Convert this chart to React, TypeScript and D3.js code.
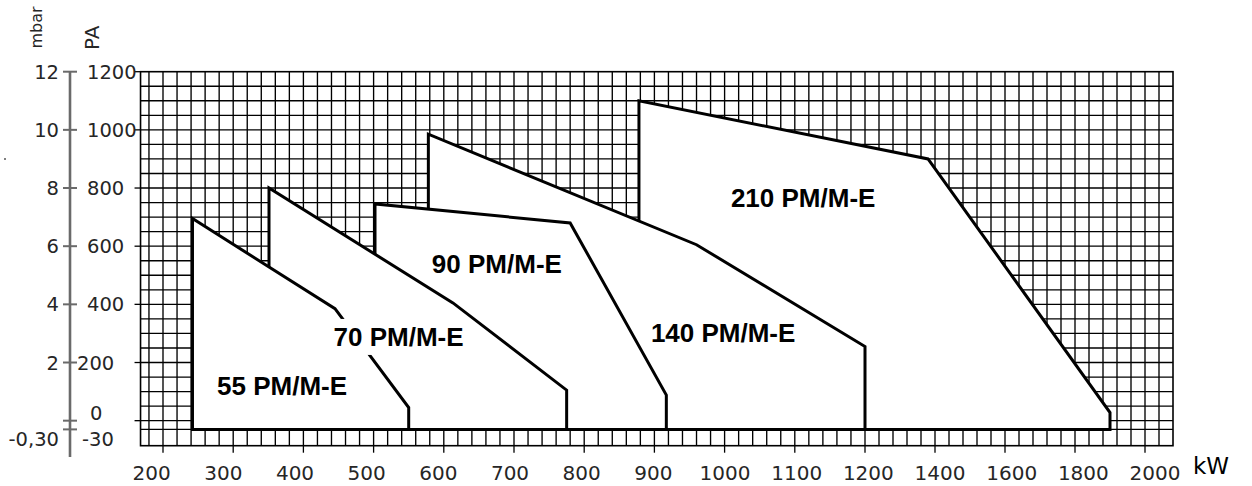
import { type FC, useEffect, useRef } from 'react'
import * as d3 from 'd3'

// burner models, back to front (the small fields overlap the big ones)
const models = ['210 PM/M-E', '140 PM/M-E', '90 PM/M-E', '70 PM/M-E', '55 PM/M-E']

// working field outlines as [kW, Pa]
const field210 = [[878, -30], [878, 1100], [1380, 900], [1900, 28], [1900, -30]]
const field140 = [[578, -30], [578, 985], [960, 605], [1200, 255], [1200, -30]]
const field90 = [[502, -30], [502, 745], [780, 680], [917, 88], [917, -30]]
const field70 = [[351, -30], [351, 800], [613, 405], [775, 105], [775, -30]]
const field55 = [[242, -30], [242, 695], [445, 385], [550, 45], [550, -30]]
const fields = [field210, field140, field90, field70, field55]

// where the model name sits (left end of the baseline) as [kW, Pa]
const labelAnchors = [[1009, 736], [895, 272], [583, 507], [443, 257], [277, 88]]

// axes
const kwTicks = [200, 300, 400, 500, 600, 700, 800, 900, 1000, 1100, 1200, 1400, 1600, 1800, 2000]
const kwLabels = ['200', '300', '400', '500', '600', '700', '800', '900', '1000', '1100', '1200', '1400', '1600', '1800', '2000']
const paTicks = [1200, 1000, 800, 600, 400, 200, 0, -30]
const paLabels = ['1200', '1000', '800', '600', '400', '200', '0', '-30']
const mbarLabels = ['12', '10', '8', '6', '4', '2', '', '-0,30']

const W = 1252
const H = 486

const App: FC = () => {
	const ref = useRef<SVGSVGElement>(null)

	useEffect(() => {
		const svg = d3.select(ref.current)
		svg.selectAll('*').remove()

		// kW axis changes step at 1200 (100 per division below, 200 above)
		const x = d3.scaleLinear().domain([200, 1200, 2000]).range([163, 865, 1145])
		const y = d3.scaleLinear().domain([-30, 1200]).range([429.4, 71.7])

		const left = x(168)
		const right = x(2080)
		const top = y(1200)
		const bottom = y(-30) + 16.3

		svg.append('rect').attr('width', W).attr('height', H).attr('fill', '#fff')

		// grid
		const grid = svg.append('g').attr('stroke', '#000').attr('stroke-width', 1.35)
		const vLines = d3.range(180, 1200, 20).concat(d3.range(1200, 2080, 40))
		grid
			.selectAll('line.v')
			.data(vLines)
			.enter()
			.append('line')
			.attr('x1', (d) => x(d))
			.attr('x2', (d) => x(d))
			.attr('y1', top)
			.attr('y2', bottom)
		const hLines = d3.range(0, 1200, 50).concat([-30])
		grid
			.selectAll('line.h')
			.data(hLines)
			.enter()
			.append('line')
			.attr('x1', left)
			.attr('x2', right)
			.attr('y1', (d) => y(d))
			.attr('y2', (d) => y(d))
		grid
			.append('rect')
			.attr('x', left)
			.attr('y', top)
			.attr('width', right - left)
			.attr('height', bottom - top)
			.attr('fill', 'none')
			.attr('stroke-width', 1.6)

		// working fields
		const line = d3
			.line()
			.x((d) => x(d[0]))
			.y((d) => y(d[1]))
		svg
			.append('g')
			.selectAll('path')
			.data(fields)
			.enter()
			.append('path')
			.attr('d', (d: any) => line(d) + 'Z')
			.attr('fill', '#fff')
			.attr('stroke', '#000')
			.attr('stroke-width', 3)
			.attr('stroke-linejoin', 'miter')

		// model names, knocked out of whatever lies under them
		const labels = svg.append('g')
		models.forEach((name, i) => {
			const g = labels.append('g')
			const t = g
				.append('text')
				.attr('x', x(labelAnchors[i][0]))
				.attr('y', y(labelAnchors[i][1]))
				.style('font', 'bold 26px "Liberation Sans", Arial, sans-serif')
				.attr('fill', '#000')
				.text(name)
			const b = (t.node() as SVGTextElement).getBBox()
			g.insert('rect', 'text')
				.attr('x', b.x - 4)
				.attr('y', b.y - 3)
				.attr('width', b.width + 8)
				.attr('height', b.height + 6)
				.attr('fill', '#fff')
		})

		// kW ticks and labels (labels are spaced evenly, not on the ticks)
		svg
			.append('g')
			.selectAll('line')
			.data(kwTicks)
			.enter()
			.append('line')
			.attr('x1', (d) => x(d))
			.attr('x2', (d) => x(d))
			.attr('y1', bottom)
			.attr('y2', bottom + 7)
			.attr('stroke', '#000')
			.attr('stroke-width', 1.3)
		const labelX = d3.scalePoint().domain(kwLabels).range([151.7, 1155])
		svg
			.append('g')
			.selectAll('text')
			.data(kwLabels)
			.enter()
			.append('text')
			.attr('x', (d) => labelX(d) as number)
			.attr('y', 480)
			.attr('text-anchor', 'middle')
			.style('font', '20px "DejaVu Sans", sans-serif')
			.attr('fill', '#262626')
			.text((d) => d)
		svg
			.append('text')
			.attr('x', 1193)
			.attr('y', 474)
			.style('font', '23px "DejaVu Sans", sans-serif')
			.attr('fill', '#000')
			.text('kW')

		// Pa ticks on the grid edge
		svg
			.append('g')
			.selectAll('line')
			.data(paTicks.slice(0, 7))
			.enter()
			.append('line')
			.attr('x1', left - 6)
			.attr('x2', left)
			.attr('y1', (d) => y(d))
			.attr('y2', (d) => y(d))
			.attr('stroke', '#000')
			.attr('stroke-width', 1.3)

		// Pa labels: the printed ones drift a little around the ticks
		const paShift: Record<string, [number, number]> = {
			'200': [-10, 0],
			'0': [3, -8],
			'-30': [-5, 10],
		}
		svg
			.append('g')
			.selectAll('text')
			.data(paTicks)
			.enter()
			.append('text')
			.attr('x', (d, i) => 87 + (paShift[paLabels[i]]?.[0] ?? 0))
			.attr('y', (d, i) => y(d) + (paShift[paLabels[i]]?.[1] ?? 0))
			.attr('dy', '0.36em')
			.style('font', '19.5px "DejaVu Sans", sans-serif')
			.attr('fill', '#262626')
			.text((d, i) => paLabels[i])

		// mbar axis with a break between 0 and -0,30
		const mbar = svg.append('g').attr('stroke', '#6a6a6a')
		mbar
			.append('line')
			.attr('x1', 70)
			.attr('x2', 70)
			.attr('y1', top)
			.attr('y2', 457)
			.attr('stroke-width', 2.6)
		mbar
			.selectAll('line.t')
			.data(paTicks)
			.enter()
			.append('line')
			.attr('x1', 63)
			.attr('x2', 77)
			.attr('y1', (d) => y(d))
			.attr('y2', (d) => y(d))
			.attr('stroke-width', 2)
		svg
			.append('g')
			.selectAll('text')
			.data(paTicks)
			.enter()
			.append('text')
			.attr('x', 59)
			.attr('y', (d) => y(d) + (d < 0 ? 10 : 0))
			.attr('dy', '0.36em')
			.attr('text-anchor', 'end')
			.style('font', '19.5px "DejaVu Sans", sans-serif')
			.attr('fill', '#262626')
			.text((d, i) => mbarLabels[i])

		// unit titles
		svg
			.append('text')
			.attr('transform', 'translate(41.5,48.5) rotate(-90)')
			.style('font', '16px "DejaVu Sans", sans-serif')
			.attr('fill', '#262626')
			.text('mbar')
		svg
			.append('text')
			.attr('transform', 'translate(98.5,50) rotate(-90)')
			.style('font', '20px "DejaVu Sans", sans-serif')
			.attr('fill', '#262626')
			.text('PA')
		svg.append('circle').attr('cx', 5).attr('cy', 159).attr('r', 1).attr('fill', '#555')
	}, [])

	return (
		<svg
			ref={ref}
			width={W}
			height={H}
			style={{ position: 'absolute', left: 0, top: 0, display: 'block' }}
		/>
	)
}

export default App
